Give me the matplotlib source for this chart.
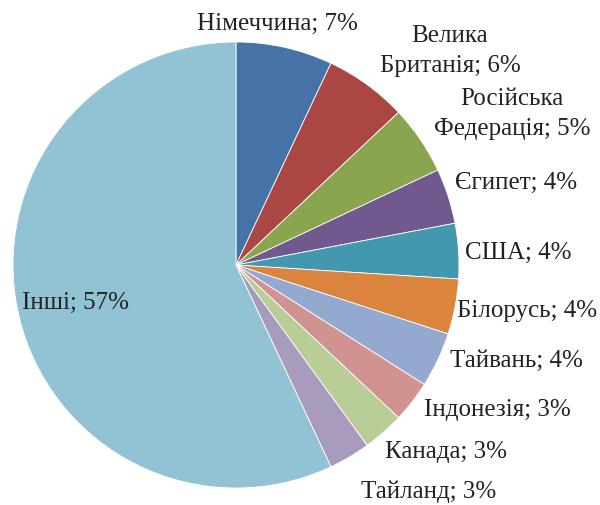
import matplotlib
matplotlib.use("Agg")
import matplotlib.pyplot as plt

categories = ["Німеччина", "Велика\nБританія", "Російська\nФедерація", "Єгипет", "США",
              "Білорусь", "Тайвань", "Індонезія", "Канада", "Тайланд", "Інші"]
values = [7, 6, 5, 4, 4, 4, 4, 3, 3, 3, 57]
colors = ["#4572A7", "#AA4643", "#89A54E", "#71588F", "#4198AF", "#DB843D",
          "#93A9CF", "#D19392", "#B9CD96", "#A99BBD", "#92C3D4"]

# label anchor positions in pixel coords (x, y from top)
label_pos = [(277, 24), (450, 51), (512, 114), (516, 183), (518, 253), (527, 311),
             (516, 361), (497, 410), (446, 452), (429, 492), (75, 303)]

W, H = 600, 505
fig = plt.figure(figsize=(W / 100, H / 100), dpi=100)
ax = fig.add_axes([0, 0, 1, 1])

ax.pie(values, colors=colors, startangle=90, counterclock=False,
       center=(236, H - 265), radius=223, frame=True,
       wedgeprops=dict(linewidth=0.6, edgecolor="white"))
ax.set_xlim(0, W)
ax.set_ylim(0, H)
ax.set_aspect("equal")
ax.axis("off")

for cat, v, (x, y) in zip(categories, values, label_pos):
    ax.text(x, H - y, f"{cat}; {v}%", ha="center", va="center",
            fontsize=18, family="Liberation Serif", color="#222222",
            linespacing=1.42)

fig.savefig("out.png", dpi=100)
